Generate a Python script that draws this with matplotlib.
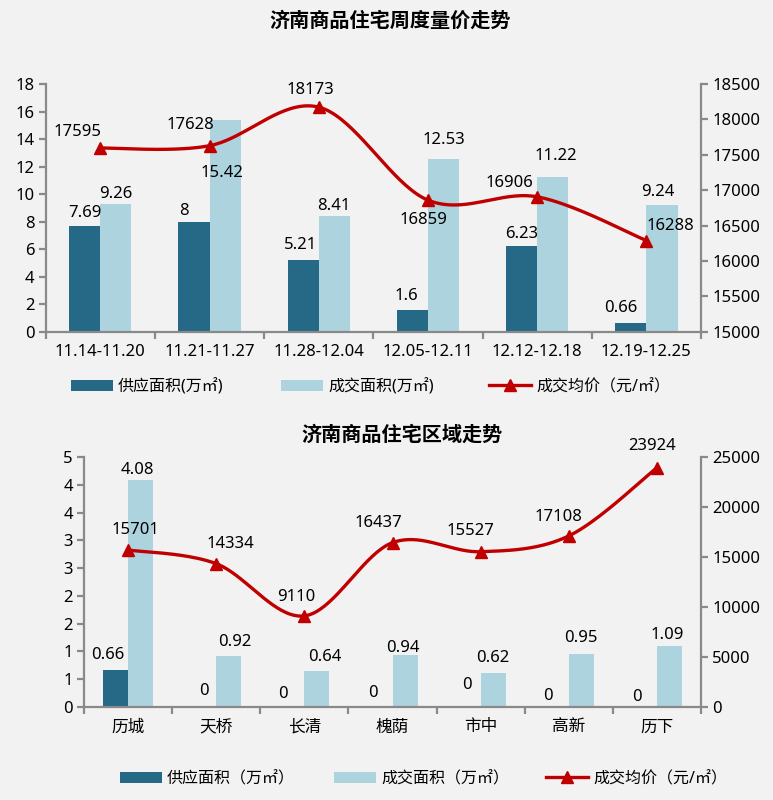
import numpy as np
import matplotlib
matplotlib.use("Agg")
import matplotlib.pyplot as plt
from matplotlib.patches import Patch
from matplotlib.lines import Line2D
from matplotlib.ticker import FuncFormatter, MultipleLocator

plt.rcParams['font.family'] = ['Noto Sans', 'Noto Sans CJK SC', 'DejaVu Sans']

# ---------------- data ----------------
weeks = ["11.14-11.20", "11.21-11.27", "11.28-12.04", "12.05-12.11", "12.12-12.18", "12.19-12.25"]
week_supply = [7.69, 8, 5.21, 1.6, 6.23, 0.66]
week_deal = [9.26, 15.42, 8.41, 12.53, 11.22, 9.24]
week_price = [17595, 17628, 18173, 16859, 16906, 16288]

districts = ["历城", "天桥", "长清", "槐荫", "市中", "高新", "历下"]
dist_supply = [0.66, 0, 0, 0, 0, 0, 0]
dist_deal = [4.08, 0.92, 0.64, 0.94, 0.62, 0.95, 1.09]
dist_price = [15701, 14334, 9110, 16437, 15527, 17108, 23924]

title_top = "济南商品住宅周度量价走势"
title_bottom = "济南商品住宅区域走势"
legend_top = ["供应面积(万㎡)", "成交面积(万㎡)", "成交均价（元/㎡）"]
legend_bottom = ["供应面积（万㎡）", "成交面积（万㎡）", "成交均价（元/㎡）"]

# ---------------- label offsets (pixels) ----------------
off_w_supply = [(0, 13), (-10, 11), (-3, 15), (-6, 14), (0, 12), (-10, 15)]
off_w_deal = [(0, 10), (-3, -53), (0, 10), (0, 19), (3, 21), (-4, 13)]
off_w_price = [(-23, 16), (-19, 21), (-8, 17), (-4, -20), (-28, 14), (24, 15)]
off_d_supply = [(-8, 15), (0, 16), (-9, 13), (-7, 14), (-1, 22), (-8, 11), (-7, 10)]
off_d_deal = [(-3, 10), (6, 14), (8, 14), (-2, 7), (0, 15), (0, 16), (-2, 11)]
off_d_price = [(7, 20), (14, 20), (-8, 19), (-14, 20), (-10, 21), (-10, 19), (-5, 22)]

BG = "#F2F2F2"
DARK = "#256987"
LIGHT = "#ADD3DF"
RED = "#C00000"
GRAY = "#898989"
FS = 12
LFS = 11.5


def smooth(x, y, n=40):
    pts = np.column_stack([x, y]).astype(float)
    P = np.vstack([pts[0], pts, pts[-1]])
    out = []
    t = np.linspace(0, 1, n)[:, None]
    for i in range(len(pts) - 1):
        p0, p1, p2, p3 = P[i], P[i + 1], P[i + 2], P[i + 3]
        c1 = p1 + (p2 - p0) / 6
        c2 = p2 - (p3 - p1) / 6
        seg = (1 - t) ** 3 * p1 + 3 * (1 - t) ** 2 * t * c1 + 3 * (1 - t) * t ** 2 * c2 + t ** 3 * p2
        out.append(seg if i == 0 else seg[1:])
    return np.vstack(out)


def style_axes(ax1, ax2, n):
    ax1.set_facecolor(BG)
    for s in ["top", "right"]:
        ax1.spines[s].set_visible(False)
    for s in ["top", "left", "bottom"]:
        ax2.spines[s].set_visible(False)
    for s in ["left", "bottom"]:
        ax1.spines[s].set_color(GRAY)
        ax1.spines[s].set_linewidth(1.6)
    ax2.spines["right"].set_color(GRAY)
    ax2.spines["right"].set_linewidth(1.6)
    ax1.set_xlim(-0.5, n - 0.5)
    ax1.set_xticks(np.arange(n))
    ax1.set_xticks(np.arange(n + 1) - 0.5, minor=True)
    ax1.tick_params(axis="x", which="major", length=0, pad=9, labelsize=FS)
    ax1.tick_params(axis="x", which="minor", length=5, width=1.6, color=GRAY)
    ax1.tick_params(axis="y", length=5, width=1.6, color=GRAY, labelsize=FS, pad=3)
    ax2.tick_params(axis="y", length=5, width=1.6, color=GRAY, labelsize=FS, pad=3)


def draw(ax1, cats, supply, deal, price, offs, ylim1, ylim2):
    n = len(cats)
    x = np.arange(n)
    w = 0.285
    ax1.bar(x - w / 2, supply, w, color=DARK, zorder=2)
    ax1.bar(x + w / 2, deal, w, color=LIGHT, zorder=2)
    ax1.set_ylim(*ylim1)
    ax1.set_xticklabels(cats)
    ax2 = ax1.twinx()
    ax2.set_ylim(*ylim2)
    sm = smooth(x, price)
    ax2.plot(sm[:, 0], sm[:, 1], color=RED, lw=2.4, zorder=3, solid_capstyle="round")
    ax2.plot(x, price, ls="none", marker="^", color=RED, markersize=9, zorder=4)
    for i in range(n):
        ax2.annotate(f"{supply[i]:g}", xy=(x[i] - w / 2, supply[i]), xycoords=ax1.transData,
                     xytext=offs[0][i], textcoords="offset pixels", ha="center", va="center", fontsize=FS)
        ax2.annotate(f"{deal[i]:g}", xy=(x[i] + w / 2, deal[i]), xycoords=ax1.transData,
                     xytext=offs[1][i], textcoords="offset pixels", ha="center", va="center", fontsize=FS)
        ax2.annotate(f"{price[i]}", xy=(x[i], price[i]), xycoords=ax2.transData,
                     xytext=offs[2][i], textcoords="offset pixels", ha="center", va="center", fontsize=FS)
    style_axes(ax1, ax2, n)
    return ax2


def legend_row(fig, labels, xs, y):
    handles = [Patch(facecolor=DARK, edgecolor="none"),
               Patch(facecolor=LIGHT, edgecolor="none"),
               Line2D([], [], color=RED, lw=2.4, marker="^", markersize=9)]
    for h, lab, xp in zip(handles, labels, xs):
        fig.legend(handles=[h], labels=[lab], loc="center left", bbox_to_anchor=(xp / 773, 1 - y / 800),
                   frameon=False, borderpad=0, borderaxespad=0, handlelength=2.6, handleheight=0.7,
                   handletextpad=0.35, fontsize=LFS, numpoints=1)


fig = plt.figure(figsize=(7.73, 8.0), dpi=100, facecolor=BG)

# top chart
ax_t = fig.add_axes([45.7 / 773, 1 - 331.7 / 800, (701 - 45.7) / 773, (331.7 - 84) / 800])
ax_t2 = draw(ax_t, weeks, week_supply, week_deal, week_price,
             (off_w_supply, off_w_deal, off_w_price), (0, 18), (15000, 18500))
ax_t.yaxis.set_major_locator(MultipleLocator(2))
ax_t2.yaxis.set_major_locator(MultipleLocator(500))
fig.text(390 / 773, 1 - 22 / 800, title_top, ha="center", va="center", fontsize=14.5, fontweight="bold")
legend_row(fig, legend_top, [71, 281, 489], 387)

# bottom chart
ax_b = fig.add_axes([84 / 773, 1 - 707 / 800, (701 - 84) / 773, (707 - 457) / 800])
ax_b2 = draw(ax_b, districts, dist_supply, dist_deal, dist_price,
             (off_d_supply, off_d_deal, off_d_price), (0, 4.5), (0, 25000))
ax_b.set_yticks(np.arange(0, 4.51, 0.5))
ax_b.yaxis.set_major_formatter(FuncFormatter(lambda v, p: f"{int(np.floor(v + 0.5 + 1e-9))}"))
ax_b2.yaxis.set_major_locator(MultipleLocator(5000))
fig.text(402 / 773, 1 - 436 / 800, title_bottom, ha="center", va="center", fontsize=14.5, fontweight="bold")
legend_row(fig, legend_bottom, [120, 334, 546], 779)

fig.savefig("out.png", dpi=100, facecolor=BG)
